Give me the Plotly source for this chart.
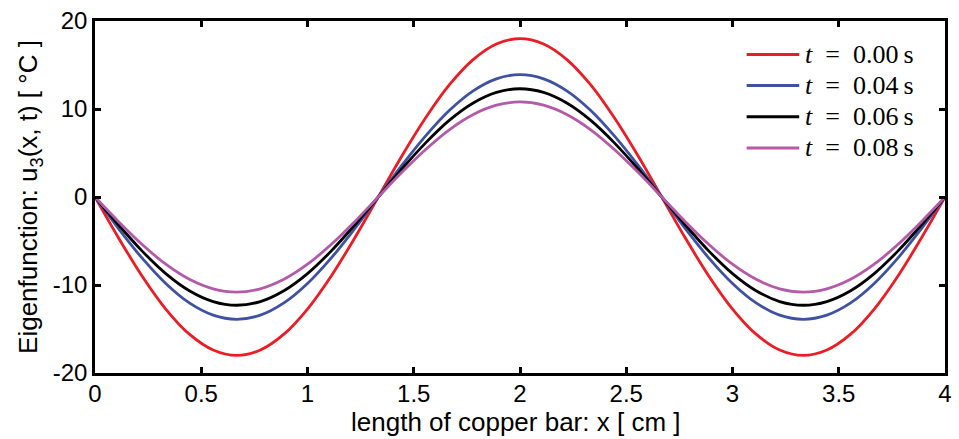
import plotly.graph_objects as go

x_cm = [0.0, 0.111, 0.222, 0.333, 0.444, 0.556, 0.667, 0.778, 0.889, 1.0,
        1.111, 1.222, 1.333, 1.444, 1.556, 1.667, 1.778, 1.889, 2.0, 2.111,
        2.222, 2.333, 2.444, 2.556, 2.667, 2.778, 2.889, 3.0, 3.111, 3.222,
        3.333, 3.444, 3.556, 3.667, 3.778, 3.889, 4.0]

u_t000 = [0, -4.66, -9.00, -12.73, -15.59, -17.39, -18.00, -17.39, -15.59, -12.73, -9.00, -4.66,
          0, 4.66, 9.00, 12.73, 15.59, 17.39, 18.00, 17.39, 15.59, 12.73, 9.00, 4.66,
          0, -4.66, -9.00, -12.73, -15.59, -17.39, -18.00, -17.39, -15.59, -12.73, -9.00, -4.66, 0]
u_t004 = [0, -3.60, -6.95, -9.83, -12.04, -13.43, -13.90, -13.43, -12.04, -9.83, -6.95, -3.60,
          0, 3.60, 6.95, 9.83, 12.04, 13.43, 13.90, 13.43, 12.04, 9.83, 6.95, 3.60,
          0, -3.60, -6.95, -9.83, -12.04, -13.43, -13.90, -13.43, -12.04, -9.83, -6.95, -3.60, 0]
u_t006 = [0, -3.18, -6.15, -8.70, -10.65, -11.88, -12.30, -11.88, -10.65, -8.70, -6.15, -3.18,
          0, 3.18, 6.15, 8.70, 10.65, 11.88, 12.30, 11.88, 10.65, 8.70, 6.15, 3.18,
          0, -3.18, -6.15, -8.70, -10.65, -11.88, -12.30, -11.88, -10.65, -8.70, -6.15, -3.18, 0]
u_t008 = [0, -2.80, -5.40, -7.64, -9.35, -10.43, -10.80, -10.43, -9.35, -7.64, -5.40, -2.80,
          0, 2.80, 5.40, 7.64, 9.35, 10.43, 10.80, 10.43, 9.35, 7.64, 5.40, 2.80,
          0, -2.80, -5.40, -7.64, -9.35, -10.43, -10.80, -10.43, -9.35, -7.64, -5.40, -2.80, 0]

series_names = ["<i>t</i>\u2002=\u20020.00\u2009s", "<i>t</i>\u2002=\u20020.04\u2009s",
                "<i>t</i>\u2002=\u20020.06\u2009s", "<i>t</i>\u2002=\u20020.08\u2009s"]
series_values = [u_t000, u_t004, u_t006, u_t008]
series_colors = ["#ED1C24", "#3F51A3", "#000000", "#B55AA8"]

x_ticks = [0, 0.5, 1, 1.5, 2, 2.5, 3, 3.5, 4]
x_ticktext = ["0", "0.5", "1", "1.5", "2", "2.5", "3", "3.5", "4"]
y_ticks = [-20, -10, 0, 10, 20]
y_ticktext = ["-20", "-10", "0", "10", "20"]

x_title = "length of copper bar: x [ cm ]"
y_title = "Eigenfunction: u<sub>3</sub>(x, t) [ °C ]"

sans = "Liberation Sans, Arial, sans-serif"
serif = "Liberation Serif, Times New Roman, serif"

W, H = 959, 439
ML, MR, MT, MB = 95, 7, 15, 66
PW, PH = W - ML - MR, H - MT - MB


def px_x(px):
    return (px - ML) / PW


def px_y(py):
    return (H - MB - py) / PH


fig = go.Figure()
for name, vals, col in zip(series_names, series_values, series_colors):
    fig.add_trace(go.Scatter(x=x_cm, y=vals, mode="lines", name=name, showlegend=False,
                             line=dict(color=col, width=2.8, shape="spline")))

# manual legend (line sample + label), positioned in paper coordinates
leg_line_x0, leg_line_x1, leg_text_x = 752, 805, 809
leg_y0, leg_dy = 49, 31.7
for i, (name, col) in enumerate(zip(series_names, series_colors)):
    yy = px_y(leg_y0 + i * leg_dy)
    fig.add_shape(type="line", xref="paper", yref="paper",
                  x0=px_x(leg_line_x0), x1=px_x(leg_line_x1), y0=yy, y1=yy,
                  line=dict(color=col, width=3))
    fig.add_annotation(xref="paper", yref="paper", x=px_x(leg_text_x), y=yy,
                       xanchor="left", yanchor="middle", showarrow=False, text=name,
                       font=dict(family=serif, size=26, color="black"))

# x-axis title placed as an annotation for exact vertical placement
fig.add_annotation(xref="paper", yref="paper", x=px_x(519), y=px_y(423),
                   xanchor="center", yanchor="middle", showarrow=False, text=x_title,
                   borderpad=0,
                   font=dict(family=sans, size=26, color="black"))

axis_common = dict(showline=True, linecolor="black", linewidth=2.5, mirror="allticks",
                   ticks="inside", ticklen=6, tickwidth=2.5, tickcolor="black",
                   showgrid=False, zeroline=False,
                   tickfont=dict(family=sans, size=24, color="black"))

fig.update_layout(
    width=W, height=H,
    margin=dict(l=ML, r=MR, t=MT, b=MB),
    plot_bgcolor="white", paper_bgcolor="white",
    xaxis=dict(range=[0, 4], tickvals=x_ticks, ticktext=x_ticktext,
               ticklabelstandoff=-3, **axis_common),
    yaxis=dict(range=[-20, 20], tickvals=y_ticks, ticktext=y_ticktext,
               title=dict(text=y_title, standoff=8,
                          font=dict(family=sans, size=26, color="black")),
               **axis_common),
    showlegend=False,
)

fig.write_html("out.html")
